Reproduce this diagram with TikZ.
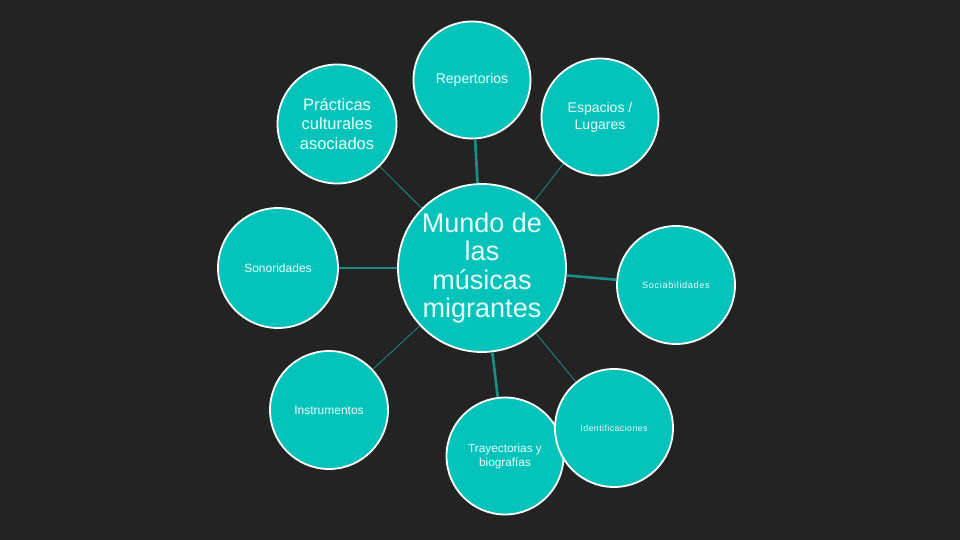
\documentclass[tikz,border=0pt]{standalone}
\usepackage{fontspec}
\setmainfont{Liberation Sans}
\newfontfamily\espaciada[LetterSpace=7]{Liberation Sans}
\newfontfamily\espaciadab[LetterSpace=5]{Liberation Sans}
\usetikzlibrary{positioning}

\definecolor{fondo}{HTML}{232323}
\definecolor{turquesa}{HTML}{03C3BA}
\definecolor{enlace}{HTML}{1B8F87}
\definecolor{texto}{HTML}{E8FFFD}

\tikzset{
  burbuja/.style={circle, draw=white, line width=1.8pt, fill=turquesa,
    text=texto, align=center, inner sep=0pt, minimum size=117pt},
  grueso/.style={draw=enlace, line width=2.6pt},
  fino/.style={draw=enlace, line width=0.8pt}
}

\begin{document}
\begin{tikzpicture}[x=1pt, y=-1pt]
  \fill[fondo] (0,0) rectangle (960,540);
  \useasboundingbox (0,0) rectangle (960,540);

  \node[burbuja, minimum size=168pt, font=\fontsize{27}{28.5}\selectfont]
    (mundo) at (482,268) {Mundo de\\las\\músicas\\migrantes};

  \node[burbuja, font=\fontsize{14}{17}\selectfont] (repertorios) at (472,80) {Repertorios};
  \node[burbuja, minimum size=119pt, font=\fontsize{16.5}{19.5}\selectfont]
    (practicas) at (337,124) {Prácticas\\culturales\\asociados};
  \node[burbuja, font=\fontsize{14}{17}\selectfont] (espacios) at (600,117) {Espacios /\\Lugares};
  \node[burbuja, minimum size=120pt, font=\fontsize{12}{14}\selectfont] (sonoridades) at (278,268) {Sonoridades};
  \node[burbuja, minimum size=118pt, font=\fontsize{9.2}{11}\espaciada] (sociabilidades) at (676,285) {Sociabilidades};
  \node[burbuja, minimum size=118pt, font=\fontsize{12}{14}\selectfont] (instrumentos) at (329,410) {Instrumentos};
  \node[burbuja, font=\fontsize{11.8}{14}\selectfont] (trayectorias) at (505,456) {Trayectorias y\\biografías};
  \node[burbuja, minimum size=118pt, font=\fontsize{8.8}{11}\espaciadab] (identificaciones) at (614,428) {Identificaciones};

  % enlaces
  \draw[grueso] (mundo) -- (repertorios);
  \draw[grueso] (mundo) -- (sonoridades);
  \draw[grueso] (mundo) -- (sociabilidades);
  \draw[grueso] (mundo) -- (trayectorias);
  \draw[fino] (mundo) -- (practicas);
  \draw[fino] (mundo) -- (espacios);
  \draw[fino] (mundo) -- (instrumentos);
  \draw[fino] (mundo) -- (identificaciones);
\end{tikzpicture}
\end{document}
